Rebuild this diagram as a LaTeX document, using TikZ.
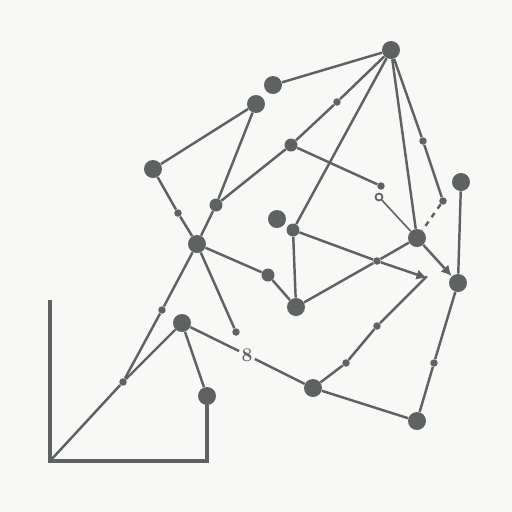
\documentclass[tikz,border=0pt]{standalone}
\usepackage{tikz}
\usetikzlibrary{arrows.meta}

\definecolor{dotgray}{HTML}{5E6361}
\definecolor{paper}{HTML}{F8F8F6}

\begin{document}
\begin{tikzpicture}[x=0.02cm,y=-0.02cm,
		every node/.style={circle,fill=dotgray,inner sep=0pt},
		big/.style={minimum size=0.36cm},
		mid/.style={minimum size=0.26cm},
		tiny/.style={minimum size=0.15cm},
		ring/.style={fill=paper,draw=dotgray,line width=1pt,minimum size=0.14cm},
		edge/.style={draw=dotgray,line width=1.4pt},
		thin/.style={draw=dotgray,line width=0.9pt},
		axis/.style={draw=dotgray,line width=1.8pt}]

		\fill[paper] (0,0) rectangle (512,512);
		\useasboundingbox (0,0) rectangle (512,512);

		%upper nodes
		\node[big] (T) at (391,50) {};
		\node[big] (R) at (273,85) {};
		\node[big] (A) at (256,104) {};
		\node[big] (B) at (153,169) {};
		\node[mid] (C) at (216,205) {};
		\node[big] (D) at (197,244) {};
		\node[tiny] (b1) at (178,213) {};
		\node[mid] (E) at (291,145) {};
		\node[tiny] (t1) at (337,102) {};
		\node[big] (S) at (277,219) {};
		\node[mid] (F) at (293,230) {};
		\node[tiny] (G) at (381,186) {};
		\node[ring] (g1) at (379,197) {};
		\node[tiny] (H) at (423,141) {};
		\node[tiny] (h1) at (443,201) {};
		\node[big] (I) at (461,182) {};
		\node[big] (J) at (417,238) {};

		%middle nodes
		\node[big] (K) at (458,283) {};
		\coordinate (tip) at (427,278);
		\node[mid] (d1) at (268,275) {};
		\node[big] (L) at (296,307) {};
		\node[tiny] (M) at (377,261) {};
		\node[big] (N) at (182,323) {};
		\node[tiny] (d2) at (236,332) {};
		\node[tiny] (d3) at (162,310) {};
		\node[tiny] (c1) at (123,382) {};

		%lower nodes
		\node[fill=none,text=dotgray,font=\fontsize{11}{11}\selectfont\bfseries] (eight) at (247,355) {8};
		\node[big] (O) at (313,388) {};
		\node[tiny] (o1) at (346,363) {};
		\node[tiny] (o2) at (377,326) {};
		\node[big] (P) at (417,421) {};
		\node[tiny] (p1) at (434,363) {};
		\node[big] (Q) at (207,396) {};

		%axis corner
		\coordinate (ytop) at (50,300);
		\coordinate (orig) at (50,461);
		\coordinate (xend) at (207,461);

		%edges
		\draw[edge] (T) -- (R);
		\draw[edge] (T) -- (t1) -- (E) -- (C);
		\draw[edge] (A) -- (B);
		\draw[edge] (A) -- (C) -- (D);
		\draw[edge] (B) -- (b1) -- (D);
		\draw[edge] (E) -- (G);
		\draw[thin] (g1) -- (J);
		\draw[edge] (T) -- (F);
		\draw[edge] (T) -- (J);
		\draw[edge] (T) -- (H) -- (h1);
		\draw[edge,dashed] (h1) -- (J);
		\draw[edge] (I) -- (K);
		\draw[edge,-{Latex[length=6pt,width=6pt]}] (J) -- (K);
		\draw[edge] (F) -- (M);
		\draw[edge,-{Latex[length=6pt,width=6pt,fill=dotgray!80!blue]}] (M) -- (tip);
		\draw[edge] (F) -- (L);
		\draw[edge] (L) -- (M) -- (J);
		\draw[edge] (D) -- (d1) -- (L);
		\draw[edge] (D) -- (d2);
		\draw[edge] (D) -- (d3) -- (c1);
		\draw[edge] (orig) -- (c1) -- (N);
		\draw[edge] (N) -- (Q);
		\draw[edge] (N) -- (eight) -- (O);
		\draw[edge] (O) -- (P);
		\draw[edge] (O) -- (o1) -- (o2) -- ([yshift=1pt]tip);
		\draw[edge] (P) -- (p1) -- (K);
		\draw[axis] (ytop) -- (orig) -- (xend) -- (Q);

		\end{tikzpicture}
\end{document}
